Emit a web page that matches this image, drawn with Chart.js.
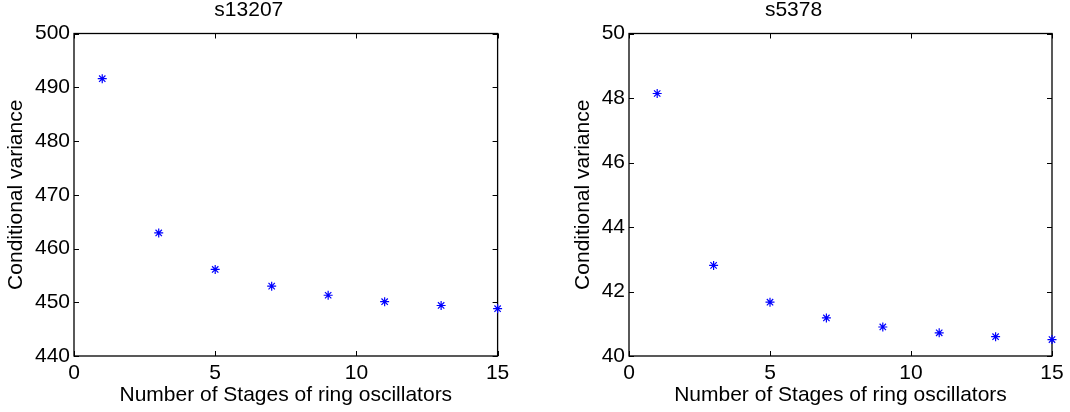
<!DOCTYPE html>
<html lang="en">
<head>
    <meta charset="UTF-8">
    <title>Conditional variance vs ring oscillator stages</title>
    <script src="https://cdn.jsdelivr.net/npm/chart.js"></script>
    <style>
        body {
            margin: 0;
            background: #fff;
        }
        .panel {
            position: absolute;
            top: 0;
            width: 535px;
            height: 412px;
        }
    </style>
</head>
<body>
    <div class="panel" style="left:0"><canvas id="chartA" width="535" height="412"></canvas></div>
    <div class="panel" style="left:535px"><canvas id="chartB" width="535" height="412"></canvas></div>

    <script>
        // number of stages (x) shared by both circuits
        const stages = [1, 3, 5, 7, 9, 11, 13, 15];
        const xTicks = [0, 5, 10, 15];

        // s13207
        const varS13207 = [491.6, 462.9, 456.1, 453.0, 451.3, 450.1, 449.4, 448.8];
        const yTicksS13207 = [440, 450, 460, 470, 480, 490, 500];

        // s5378
        const varS5378 = [48.14, 42.81, 41.67, 41.18, 40.90, 40.72, 40.60, 40.51];
        const yTicksS5378 = [40, 42, 44, 46, 48, 50];

        const FONT = '"Liberation Sans", Arial, Helvetica, sans-serif';
        Chart.defaults.font.family = FONT;
        Chart.defaults.color = '#000';

        // box + inward tick marks on all 4 sides, matlab style
        const boxPlugin = {
            id: 'box',
            beforeDatasetsDraw(chart) {
                const ctx = chart.ctx;
                const a = chart.chartArea;
                const xs = chart.scales.x, ys = chart.scales.y;
                const len = 5;
                ctx.save();
                ctx.strokeStyle = '#000';
                ctx.lineWidth = 1;
                ctx.beginPath();
                xs.ticks.forEach(t => {
                    const px = Math.round(xs.getPixelForValue(t.value)) + 0.5;
                    ctx.moveTo(px, a.bottom); ctx.lineTo(px, a.bottom - len);
                    ctx.moveTo(px, a.top); ctx.lineTo(px, a.top + len);
                });
                ys.ticks.forEach(t => {
                    const py = Math.round(ys.getPixelForValue(t.value)) + 0.5;
                    ctx.moveTo(a.left, py); ctx.lineTo(a.left + len, py);
                    ctx.moveTo(a.right, py); ctx.lineTo(a.right - len, py);
                });
                ctx.stroke();
                ctx.lineWidth = 1.3;
                ctx.strokeRect(a.left, a.top, a.right - a.left, a.bottom - a.top);
                ctx.restore();
            }
        };

        function makeChart(id, title, yVals, yTicks, g) {
            const ctx = document.getElementById(id).getContext('2d');
            return new Chart(ctx, {
                type: 'scatter',
                data: {
                    datasets: [{
                        data: stages.map((s, i) => ({ x: s, y: yVals[i] })),
                        pointStyle: 'star',
                        radius: 4.5,
                        borderWidth: 1.2,
                        borderColor: '#0000ff',
                        backgroundColor: '#0000ff',
                        clip: false
                    }]
                },
                options: {
                    responsive: false,
                    animation: false,
                    devicePixelRatio: 1,
                    layout: { padding: { left: 0, right: g.right, top: 0, bottom: 0 } },
                    plugins: {
                        legend: { display: false },
                        tooltip: { enabled: false },
                        title: {
                            display: true,
                            text: title,
                            color: '#000',
                            font: { size: 21, weight: 'normal', lineHeight: 1 },
                            padding: { top: 0, bottom: 12.5 }
                        }
                    },
                    scales: {
                        x: {
                            type: 'linear',
                            min: 0,
                            max: 15,
                            afterBuildTicks: s => { s.ticks = xTicks.map(v => ({ value: v })); },
                            afterFit: s => { s.height = 56; },
                            grid: { display: false, drawTicks: false },
                            border: { display: false },
                            ticks: { font: { size: 21 }, padding: 5, maxRotation: 0 },
                            title: {
                                display: true,
                                text: 'Number of Stages of ring oscillators',
                                font: { size: 21, lineHeight: 1 },
                                padding: { top: 0, bottom: 6.5 }
                            }
                        },
                        y: {
                            min: yTicks[0],
                            max: yTicks[yTicks.length - 1],
                            afterBuildTicks: s => { s.ticks = yTicks.map(v => ({ value: v })); },
                            afterFit: s => { s.width = g.left; },
                            grid: { display: false, drawTicks: false },
                            border: { display: false },
                            ticks: { font: { size: 21 }, padding: 4 },
                            title: {
                                display: true,
                                text: 'Conditional variance',
                                font: { size: 21, lineHeight: 1 },
                                padding: { top: g.titleX - 10.5, bottom: 0 }
                            }
                        }
                    }
                },
                plugins: [boxPlugin]
            });
        }

        makeChart('chartA', 's13207', varS13207, yTicksS13207, { left: 74, right: 37.4, titleX: 16.5 });
        makeChart('chartB', 's5378', varS5378, yTicksS5378, { left: 94, right: 18, titleX: 48 });
    </script>
</body>
</html>
